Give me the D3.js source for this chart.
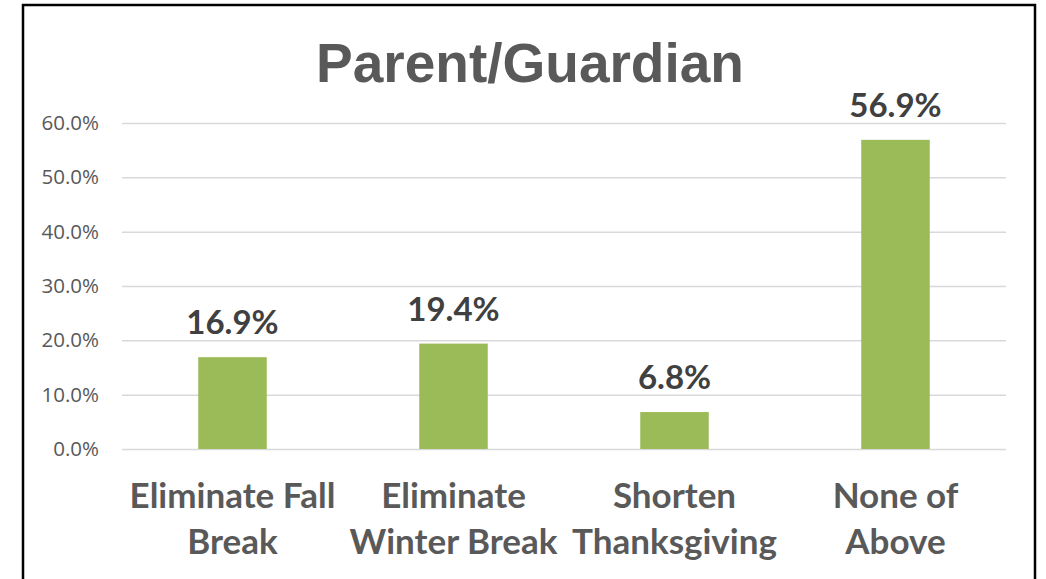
<!DOCTYPE html>
<html><head><meta charset="utf-8">
<script src="https://cdn.jsdelivr.net/npm/d3@7"></script>
<style>body{margin:0;background:#fff;}svg{display:block;}</style>
</head><body>
<svg id="chart" width="1046" height="579"></svg>
<script>
const categories = [["Eliminate Fall","Break"],["Eliminate","Winter Break"],["Shorten","Thanksgiving"],["None of","Above"]];
const values = [16.9, 19.4, 6.8, 56.9];
const tickValues = [0,10,20,30,40,50,60];
const title = "Parent/Guardian";

const svg = d3.select("#chart");
const pL = 122, pR = 1006, pT = 123, pB = 449;

svg.append("rect").attr("x",23).attr("y",5).attr("width",1012).attr("height",600)
  .attr("fill","#fff").attr("stroke","#000").attr("stroke-width",2.5);

const x = d3.scaleBand().domain(d3.range(categories.length)).range([pL,pR]).paddingInner(0.69).paddingOuter(0.345);
const y = d3.scaleLinear().domain([0,60]).range([pB,pT]);

const yAxis = d3.axisLeft(y).tickValues(tickValues).tickFormat(d=>d.toFixed(1)+"%").tickSize(-(pR-pL)).tickPadding(23);
const gy = svg.append("g").attr("transform",`translate(${pL},0)`).call(yAxis);
gy.select(".domain").remove();
gy.selectAll(".tick line").attr("stroke","#d9d9d9").attr("stroke-width",1.5);
gy.selectAll(".tick text").attr("fill","#595959").style("font-family","'Open Sans', sans-serif").style("font-size","20.5px");

svg.append("g").selectAll("rect").data(values).join("rect")
  .attr("x",(d,i)=>x(i)).attr("width",x.bandwidth())
  .attr("y",d=>y(d)).attr("height",d=>y(0)-y(d)).attr("fill","#9bbb59");

svg.append("g").selectAll("text").data(values).join("text")
  .attr("x",(d,i)=>x(i)+x.bandwidth()/2).attr("y",d=>y(d)-23)
  .attr("text-anchor","middle").attr("fill","#404040")
  .style("font-family","Lato, sans-serif").style("font-weight","bold").style("font-size","33px")
  .text(d=>d.toFixed(1)+"%");

const lab = svg.append("g").selectAll("text").data(categories).join("text")
  .attr("text-anchor","middle").attr("fill","#595959")
  .style("font-family","Lato, sans-serif").style("font-weight","bold").style("font-size","35px");
lab.each(function(d,i){
  const t = d3.select(this);
  d.forEach((line,j)=>{
    t.append("tspan").attr("x",x(i)+x.bandwidth()/2).attr("y",508+j*46).text(line);
  });
});

svg.append("text").attr("x",530).attr("y",82).attr("text-anchor","middle").attr("fill","#595959")
  .style("font-family","'Liberation Sans', Arial, sans-serif").style("font-weight","bold").style("font-size","55px")
  .text(title);
</script>
</body></html>
